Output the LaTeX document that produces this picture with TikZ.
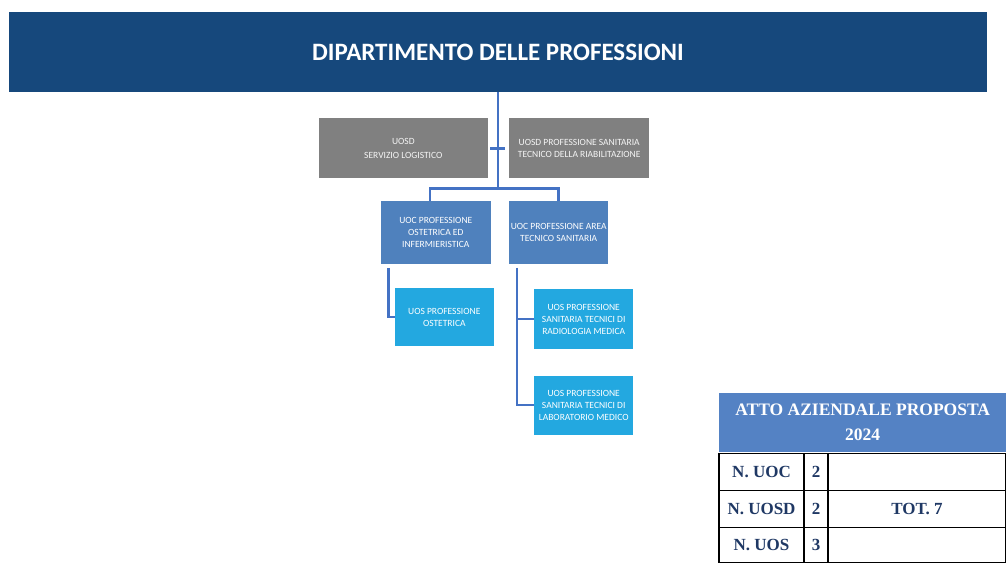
\documentclass[tikz,border=0pt]{standalone}
\usepackage{fontspec}
\setmainfont{Carlito}
\newfontfamily\tabfont{Liberation Serif}
\usepackage{tikz}
\usetikzlibrary{positioning}
\definecolor{navy}{RGB}{22, 72, 124}
\definecolor{grigio}{RGB}{128, 128, 128}
\definecolor{azzurro}{RGB}{79, 129, 189}
\definecolor{celeste}{RGB}{35, 168, 224}
\definecolor{linea}{RGB}{68, 114, 196}
\definecolor{tabblu}{RGB}{84, 130, 196}
\definecolor{testo}{RGB}{31, 56, 100}
\tikzstyle{head} = [rectangle, fill=navy, text=white, inner sep=0pt, minimum width=978pt, minimum height=80pt, font=\fontsize{25}{28}\selectfont\bfseries]
\tikzstyle{uosd} = [rectangle, fill=grigio, text=white!92!grigio, align=center, inner sep=0pt, minimum height=60pt, font=\fontsize{9.5}{12}\selectfont]
\tikzstyle{uoc} = [rectangle, fill=azzurro, text=white, align=center, inner sep=0pt, minimum height=63pt, font=\fontsize{9.5}{12}\selectfont]
\tikzstyle{uos} = [rectangle, fill=celeste, text=white, align=center, inner sep=0pt, minimum width=99pt, font=\fontsize{9.5}{12}\selectfont]
\tikzstyle{tedge} = [draw=linea, line width=2.5pt]
\tikzstyle{atto} = [rectangle, fill=tabblu, text=white, align=center, inner sep=0pt, minimum width=287pt, minimum height=59pt, font=\tabfont\fontsize{17.5}{25}\selectfont\bfseries]
\tikzstyle{cell} = [rectangle, draw=black, line width=1.5pt, outer sep=0pt, inner sep=0pt, minimum height=37pt, text=testo, font=\tabfont\fontsize{17}{19}\selectfont\bfseries]

\begin{document}
\begin{tikzpicture}

\useasboundingbox (0,0) rectangle (1006pt,562pt);

% department =============================

\node[head] (title) at (498pt,510pt) {DIPARTIMENTO DELLE PROFESSIONI};

% uosd
\node[uosd, minimum width=169pt, anchor=north east] (uosdA) at ([xshift=-10pt,yshift=-26pt]title.south) {UOSD\\[2pt]SERVIZIO LOGISTICO};
\node[uosd, minimum width=140pt, right=21pt of uosdA] (uosdB) {UOSD PROFESSIONE SANITARIA\\TECNICO DELLA RIABILITAZIONE};

% uoc
\node[uoc, minimum width=110pt, anchor=north east] (uocA) at ([xshift=3pt,yshift=-22pt]uosdA.south east) {UOC PROFESSIONE\\OSTETRICA ED\\INFERMIERISTICA};
\node[uoc, minimum width=99pt, right=18pt of uocA] (uocB) {UOC PROFESSIONE AREA\\TECNICO SANITARIA};

% uos
\node[uos, minimum height=58pt, below right=24pt and 14pt of uocA.south west] (uosA) {UOS PROFESSIONE\\OSTETRICA};
\node[uos, minimum height=60pt, below right=25pt and 25pt of uocB.south west] (uosB) {UOS PROFESSIONE\\SANITARIA TECNICI DI\\RADIOLOGIA MEDICA};
\node[uos, minimum height=59pt, below=26pt of uosB] (uosC) {UOS PROFESSIONE\\SANITARIA TECNICI DI\\LABORATORIO MEDICO};

%edges
\coordinate (hub) at ([yshift=12pt]title.south |- uocA.north);
\path[tedge] (title.south) -- (hub);
\path[tedge] ([xshift=-6pt]uocA.north) |- (hub) -| (uocB.north);
\path[tedge, shorten <=2pt, shorten >=4pt] (uosdA) -- (uosdB);
\path[tedge] ([xshift=8pt,yshift=-4pt]uocA.south west) |- (uosA.west);
\path[tedge] ([xshift=8pt,yshift=-4pt]uocB.south west) |- (uosB.west);
\path[tedge] ([xshift=8pt,yshift=-4pt]uocB.south west) |- (uosC.west);

% table ==================================

\node[atto, anchor=north west] (atto) at (719pt,169pt) {ATTO AZIENDALE PROPOSTA\\2024};

\node[cell, minimum width=85pt, below right=1pt and 0pt of atto.south west] (nuoc) {N. UOC};
\node[cell, minimum width=24pt, right=0pt of nuoc] (nuocv) {2};
\node[cell, minimum width=178pt, right=0pt of nuocv] (nuoct) {};

\node[cell, minimum width=85pt, below=0pt of nuoc] (nuosd) {N. UOSD};
\node[cell, minimum width=24pt, right=0pt of nuosd] (nuosdv) {2};
\node[cell, minimum width=178pt, right=0pt of nuosdv] (nuosdt) {TOT. 7};

\node[cell, minimum width=85pt, minimum height=35pt, below=0pt of nuosd] (nuos) {N. UOS};
\node[cell, minimum width=24pt, minimum height=35pt, right=0pt of nuos] (nuosv) {3};
\node[cell, minimum width=178pt, minimum height=35pt, right=0pt of nuosv] (nuost) {};

\end{tikzpicture}
\end{document}
